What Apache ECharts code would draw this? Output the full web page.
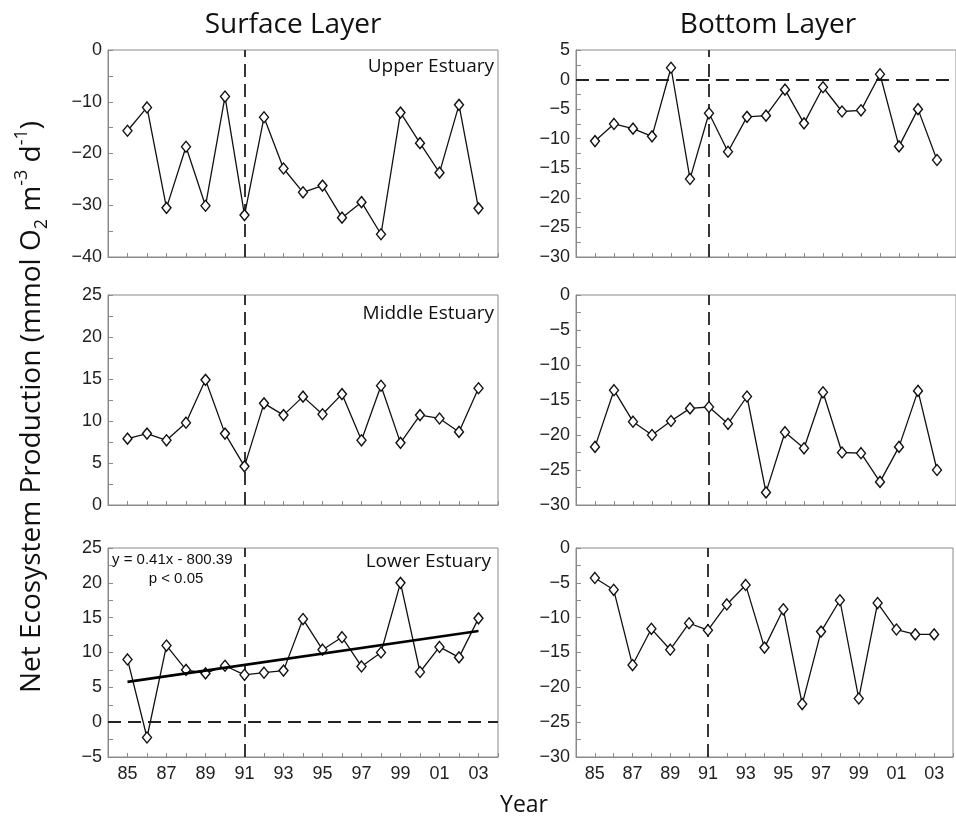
<!DOCTYPE html>
<html>
<head>
<meta charset="utf-8">
<title>Net Ecosystem Production</title>
<script src="https://cdn.jsdelivr.net/npm/echarts@6/dist/echarts.min.js"></script>
<style>
  html, body { margin: 0; padding: 0; background: #fff; }
  #chart { width: 956px; height: 820px; }
</style>
</head>
<body>
<div id="chart"></div>
<script>
// Survey years (1985–2003)
const years = [1985, 1986, 1987, 1988, 1989, 1990, 1991, 1992, 1993, 1994,
               1995, 1996, 1997, 1998, 1999, 2000, 2001, 2002, 2003];

// Years that carry a tick label on the x axis
const xLabelYears = [1985, 1987, 1989, 1991, 1993, 1995, 1997, 1999, 2001, 2003];

// Net ecosystem production, mmol O2 m-3 d-1
const surfaceUpper  = [-15.6, -11.1, -30.5, -18.7, -30.1, -9.0, -31.9, -13.0, -22.9, -27.5,
                       -26.2, -32.4, -29.4, -35.6, -12.1, -18.0, -23.7, -10.6, -30.6];
const bottomUpper   = [-10.4, -7.5, -8.3, -9.6, 2.0, -16.8, -5.7, -12.2, -6.3, -6.1,
                       -1.7, -7.4, -1.3, -5.4, -5.2, 0.9, -11.3, -5.0, -13.6];
const surfaceMiddle = [7.9, 8.5, 7.7, 9.8, 14.9, 8.5, 4.6, 12.1, 10.7, 12.9,
                       10.8, 13.2, 7.7, 14.2, 7.4, 10.7, 10.3, 8.7, 13.9];
const bottomMiddle  = [-21.7, -13.6, -18.1, -20.0, -18.0, -16.2, -16.0, -18.4, -14.5, -28.2,
                       -19.6, -21.9, -13.9, -22.5, -22.6, -26.7, -21.7, -13.7, -25.0];
const surfaceLower  = [9.0, -2.2, 11.0, 7.5, 7.0, 8.1, 6.8, 7.1, 7.4, 14.8,
                       10.4, 12.2, 8.0, 10.0, 20.0, 7.2, 10.8, 9.3, 14.9];
const bottomLower   = [-4.3, -6.0, -16.8, -11.6, -14.6, -10.8, -11.8, -8.1, -5.3, -14.3,
                       -8.8, -22.4, -12.0, -7.5, -21.6, -7.9, -11.7, -12.4, -12.4];

// Year of the vertical reference line
const markYear = 1991;

// Panel labels and annotation text
const columnTitles = ['Surface Layer', 'Bottom Layer'];
const regionNames = ['Upper Estuary', 'Middle Estuary', 'Lower Estuary'];
const fitText = ['y = 0.41x - 800.39', 'p < 0.05'];

// Least-squares fit of the lower-estuary surface series
function linearFit(xs, ys) {
  const n = xs.length;
  const mx = xs.reduce((a, b) => a + b, 0) / n;
  const my = ys.reduce((a, b) => a + b, 0) / n;
  let sxy = 0, sxx = 0;
  for (let i = 0; i < n; i++) {
    sxy += (xs[i] - mx) * (ys[i] - my);
    sxx += (xs[i] - mx) * (xs[i] - mx);
  }
  const slope = sxy / sxx;
  return { slope, intercept: my - slope * mx };
}
const fit = linearFit(years, surfaceLower);
const fitLine = [years[0], years[years.length - 1]].map(x => [x, fit.intercept + fit.slope * x]);

const pairs = vals => years.map((y, i) => [y, vals[i]]);

const panels = [
  { data: surfaceUpper,  min: -40, max: 0,  interval: 10, zero: false },
  { data: bottomUpper,   min: -30, max: 5,  interval: 5,  zero: true },
  { data: surfaceMiddle, min: 0,   max: 25, interval: 5,  zero: false },
  { data: bottomMiddle,  min: -30, max: 0,  interval: 5,  zero: false },
  { data: surfaceLower,  min: -5,  max: 25, interval: 5,  zero: true },
  { data: bottomLower,   min: -30, max: 0,  interval: 5,  zero: false }
];

const rowTops = [50, 295, 548];
const rowHeights = [207, 210, 209];
const colLefts = [108, 576];
const colWidths = [390, 386];

const axisGray = '#8a8a8a';
const tickFont = 'Liberation Sans, Arial, sans-serif';
const textFont = 'Open Sans, Noto Sans, sans-serif';

const signed = v => (v < 0 ? '\u2212' + Math.abs(v) : String(v));

const grids = [], xAxes = [], yAxes = [], series = [];

panels.forEach((p, i) => {
  const row = Math.floor(i / 2), col = i % 2;
  const isBottomRow = row === 2;
  grids.push({
    left: colLefts[col], top: rowTops[row],
    width: colWidths[col], height: rowHeights[row],
    show: true, borderColor: axisGray, borderWidth: 1,
    containLabel: false
  });
  xAxes.push({
    type: 'value', gridIndex: i, min: 1984, max: 2004, interval: 1,
    axisLine: { show: true, onZero: false, lineStyle: { color: axisGray, width: 1 } },
    axisTick: { show: true, inside: true, length: 4, lineStyle: { color: axisGray } },
    axisLabel: {
      show: isBottomRow, margin: 8, fontSize: 18, color: '#222', fontFamily: tickFont,
      hideOverlap: false,
      formatter: v => xLabelYears.indexOf(v) >= 0 ? String(v).slice(2) : ''
    },
    splitLine: { show: false }
  });
  yAxes.push({
    type: 'value', gridIndex: i, min: p.min, max: p.max, interval: p.interval,
    axisLine: { show: true, onZero: false, lineStyle: { color: axisGray, width: 1 } },
    axisTick: { show: true, inside: true, length: 5, lineStyle: { color: axisGray } },
    minorTick: { show: true, splitNumber: 2, length: 5, lineStyle: { color: axisGray } },
    axisLabel: { margin: 6, fontSize: 18, color: '#222', fontFamily: tickFont, formatter: signed },
    splitLine: { show: false }
  });
  const marks = [{ xAxis: markYear }];
  if (p.zero) marks.push({ yAxis: 0 });
  series.push({
    type: 'line', xAxisIndex: i, yAxisIndex: i,
    data: pairs(p.data),
    symbol: 'diamond', symbolSize: [9, 11], showSymbol: true,
    lineStyle: { color: '#111', width: 1.3 },
    itemStyle: { color: '#fff', borderColor: '#111', borderWidth: 1.4 },
    z: 3,
    markLine: {
      silent: true, symbol: 'none', label: { show: false },
      lineStyle: { type: [13, 7], color: '#222', width: 1.8 },
      data: marks, z: 2
    }
  });
});

// Trend line for the lower-estuary surface layer
series.push({
  type: 'line', xAxisIndex: 4, yAxisIndex: 4,
  data: fitLine, symbol: 'none',
  lineStyle: { color: '#000', width: 2.6 }, z: 4
});

const txt = (x, y, text, size, align, family) => ({
  type: 'text', x, y, silent: true,
  style: { text, fill: '#111', font: size + 'px ' + (family || textFont),
           align: align || 'center', verticalAlign: 'middle' }
});

const graphic = [
  txt(293, 25, columnTitles[0], 28),
  txt(768, 25, columnTitles[1], 28),
  txt(494, 67, regionNames[0], 19, 'right'),
  txt(494, 314, regionNames[1], 19, 'right'),
  txt(491, 562, regionNames[2], 19, 'right'),
  txt(112, 560, fitText[0], 15, 'left', tickFont),
  txt(176, 579, fitText[1], 15, 'center', tickFont),
  txt(524, 805, 'Year', 23),
  {
    type: 'text', x: 32, y: 407, rotation: Math.PI / 2, silent: true,
    style: {
      text: '{n|Net Ecosystem Production (mmol O}{sub|2}{n| m}{sup|-3}{n| d}{sup|-1}{n|)}',
      align: 'center', verticalAlign: 'middle', fill: '#111',
      rich: {
        n: { fontSize: 28, fontFamily: textFont, fill: '#111', lineHeight: 38 },
        sub: { fontSize: 18, fontFamily: textFont, fill: '#111', verticalAlign: 'bottom', lineHeight: 38 },
        sup: { fontSize: 18, fontFamily: textFont, fill: '#111', verticalAlign: 'top', lineHeight: 38 }
      }
    }
  }
];

const chart = echarts.init(document.getElementById('chart'), null, { renderer: 'canvas' });
chart.setOption({
  animation: false,
  backgroundColor: '#fff',
  grid: grids,
  xAxis: xAxes,
  yAxis: yAxes,
  series: series,
  graphic: graphic
});
</script>
</body>
</html>
